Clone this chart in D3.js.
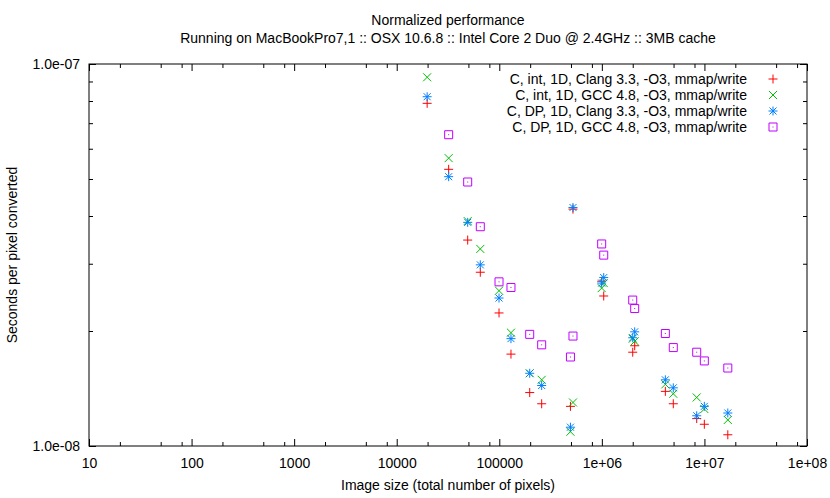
<!DOCTYPE html>
<html>
<head>
<meta charset="utf-8">
<script src="https://cdn.jsdelivr.net/npm/d3@7"></script>
<style>
  body { margin: 0; background: #fff; }
  svg { font-family: "Liberation Sans", Arial, sans-serif; }
  .axis text { font-size: 14px; fill: #000; }
  .axis line { stroke: #000; }
  .axis path { display: none; }
</style>
</head>
<body>
<svg id="chart" width="830" height="498"></svg>
<script>
// image sizes (pixels)
var sizes = [19800, 32100, 49200, 65300, 99400, 130000, 198000, 259000, 494000, 523000,
             996000, 1043000, 2000000, 2090000, 4160000, 4970000, 8410000, 9980000, 16900000];

// seconds per pixel, one array per series (null = no point)
var clangInt = [7.89e-8, 5.30e-8, 3.46e-8, 2.85e-8, 2.23e-8, 1.74e-8, 1.38e-8, 1.29e-8, 1.27e-8, 4.17e-8,
                2.70e-8, 2.47e-8, 1.76e-8, 1.83e-8, 1.39e-8, 1.29e-8, 1.18e-8, 1.14e-8, 1.07e-8];
var gccInt   = [9.23e-8, 5.67e-8, 3.88e-8, 3.28e-8, 2.55e-8, 1.98e-8, 1.55e-8, 1.49e-8, 1.09e-8, 1.30e-8,
                2.59e-8, 2.67e-8, 1.91e-8, 1.88e-8, 1.45e-8, 1.37e-8, 1.34e-8, 1.25e-8, 1.17e-8];
var clangDP  = [8.21e-8, 5.07e-8, 3.85e-8, 2.98e-8, 2.44e-8, 1.91e-8, 1.55e-8, 1.44e-8, 1.12e-8, 4.21e-8,
                2.67e-8, 2.76e-8, 1.92e-8, 1.99e-8, 1.49e-8, 1.42e-8, 1.20e-8, 1.27e-8, 1.22e-8];
var gccDP    = [null, 6.53e-8, 4.91e-8, 3.75e-8, 2.69e-8, 2.60e-8, 1.96e-8, 1.84e-8, 1.71e-8, 1.94e-8,
                3.38e-8, 3.16e-8, 2.41e-8, 2.29e-8, 1.97e-8, 1.81e-8, 1.76e-8, 1.67e-8, 1.60e-8];

var seriesNames = ["C, int, 1D, Clang 3.3, -O3, mmap/write",
                   "C, int, 1D, GCC 4.8, -O3, mmap/write",
                   "C, DP, 1D, Clang 3.3, -O3, mmap/write",
                   "C, DP, 1D, GCC 4.8, -O3, mmap/write"];

var xTicks = [10, 100, 1000, 10000, 100000, 1e6, 1e7, 1e8];
var xTickLabels = ["10", "100", "1000", "10000", "100000", "1e+06", "1e+07", "1e+08"];
var yTicks = [1e-8, 1e-7];
var yTickLabels = ["1.0e-08", "1.0e-07"];

var svg = d3.select("#chart");
var margin = {top: 64, right: 23, bottom: 52, left: 89},
    width = 830 - margin.left - margin.right,
    height = 498 - margin.top - margin.bottom;

var g = svg.append("g").attr("transform", "translate(" + margin.left + "," + margin.top + ")");

var x = d3.scaleLog().domain([10, 1e8]).range([0, width]);
var y = d3.scaleLog().domain([1e-8, 1e-7]).range([height, 0]);

// minor ticks: 2,5,8 on x, 2..9 on y
var xMinor = [];
xTicks.slice(0, -1).forEach(function(t) { [2, 5, 8].forEach(function(m) { xMinor.push(t * m); }); });
var yMinor = d3.range(2, 10).map(function(m) { return m * 1e-8; });

var fmtX = function(d) { return xTickLabels[xTicks.indexOf(d)]; };
var fmtY = function(d) { return yTickLabels[yTicks.indexOf(d)]; };

g.append("g").attr("class", "axis").attr("transform", "translate(0," + height + ")")
    .call(d3.axisBottom(x).tickValues(xTicks).tickFormat(fmtX).tickSize(-7).tickPadding(12));
g.append("g").attr("class", "axis").attr("transform", "translate(0," + height + ")")
    .call(d3.axisBottom(x).tickValues(xMinor).tickFormat("").tickSize(-4));
g.append("g").attr("class", "axis")
    .call(d3.axisTop(x).tickValues(xTicks).tickFormat("").tickSize(-7));
g.append("g").attr("class", "axis")
    .call(d3.axisTop(x).tickValues(xMinor).tickFormat("").tickSize(-4));

g.append("g").attr("class", "axis")
    .call(d3.axisLeft(y).tickValues(yTicks).tickFormat(fmtY).tickSize(-7).tickPadding(9));
g.append("g").attr("class", "axis")
    .call(d3.axisLeft(y).tickValues(yMinor).tickFormat("").tickSize(-4));
g.append("g").attr("class", "axis").attr("transform", "translate(" + width + ",0)")
    .call(d3.axisRight(y).tickValues(yTicks).tickFormat("").tickSize(-7));
g.append("g").attr("class", "axis").attr("transform", "translate(" + width + ",0)")
    .call(d3.axisRight(y).tickValues(yMinor).tickFormat("").tickSize(-4));

g.append("rect").attr("width", width).attr("height", height)
    .attr("fill", "none").attr("stroke", "#000").attr("stroke-width", 1);

// point shapes like gnuplot
var shapes = {
  plus: "M-4.5,0H4.5M0,-4.5V4.5",
  cross: "M-4,-4L4,4M-4,4L4,-4",
  star: "M-4.5,0H4.5M0,-4.5V4.5M-3.5,-3.5L3.5,3.5M-3.5,3.5L3.5,-3.5",
  box: "M-4,-4H4V4H-4Z M-0.5,0H0.5"
};
var series = [
  {name: seriesNames[0], values: clangInt, color: "#ff0000", shape: "plus"},
  {name: seriesNames[1], values: gccInt, color: "#00c000", shape: "cross"},
  {name: seriesNames[2], values: clangDP, color: "#0080ff", shape: "star"},
  {name: seriesNames[3], values: gccDP, color: "#c000ff", shape: "box"}
];

series.forEach(function(s) {
  var pts = sizes.map(function(v, i) { return {x: v, y: s.values[i]}; })
                 .filter(function(d) { return d.y != null; });
  g.append("g").selectAll("path").data(pts).enter().append("path")
      .attr("transform", function(d) { return "translate(" + x(d.x) + "," + y(d.y) + ")"; })
      .attr("d", shapes[s.shape])
      .attr("fill", "none")
      .attr("stroke", s.color)
      .attr("stroke-width", 1);
});

// legend
var legend = svg.append("g").selectAll("g").data(series).enter().append("g")
    .attr("transform", function(d, i) { return "translate(0," + (79 + i * 16) + ")"; });
legend.append("text").attr("x", 747).attr("dy", "0.35em").attr("text-anchor", "end")
    .style("font-size", "14px").text(function(d) { return d.name; });
legend.append("path").attr("transform", "translate(773,0)")
    .attr("d", function(d) { return shapes[d.shape]; })
    .attr("fill", "none").attr("stroke", function(d) { return d.color; });

// titles
svg.append("text").attr("x", 448).attr("y", 25).attr("text-anchor", "middle")
    .style("font-size", "14px").text("Normalized performance");
svg.append("text").attr("x", 448).attr("y", 43).attr("text-anchor", "middle")
    .style("font-size", "14px").text("Running on MacBookPro7,1 :: OSX 10.6.8 :: Intel Core 2 Duo @ 2.4GHz :: 3MB cache");
svg.append("text").attr("x", 448).attr("y", 490).attr("text-anchor", "middle")
    .style("font-size", "14px").text("Image size (total number of pixels)");
svg.append("text").attr("transform", "translate(17,255) rotate(-90)").attr("text-anchor", "middle")
    .style("font-size", "14px").text("Seconds per pixel converted");
</script>
</body>
</html>
